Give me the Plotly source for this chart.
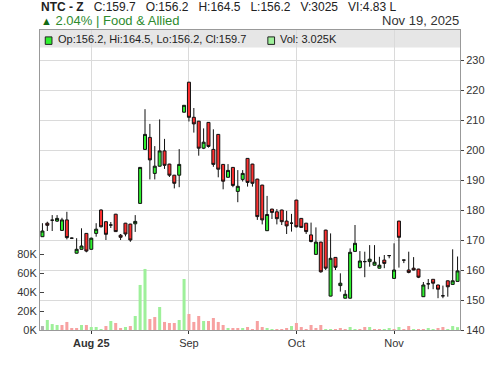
import plotly.graph_objects as go

# ---- data (trading-day index, OHLC, volume) ----
opens = [171.1, 175.6, 176.6, 176.3, 173.2, 176.7, 170.6, 165.6, 166.9, 172.2,
         166.9, 172.2, 180.0, 176.1, 175.0, 178.6, 171.6, 175.6, 175.3, 175.4,
         182.2, 200.2, 204.2, 192.2, 194.6, 199.7, 195.3, 191.6, 191.6, 212.6,
         222.6, 210.9, 209.6, 200.6, 209.2, 200.2, 205.2, 195.2, 190.9, 194.2,
         186.2, 190.2, 197.2, 195.3, 190.3, 188.3, 173.1, 180.3, 179.4, 180.0,
         176.3, 175.6, 183.3, 177.2, 175.6, 171.7, 165.2, 169.3, 173.3, 151.3,
         164.2, 154.8, 150.6, 150.6, 166.2, 160.8, 162.8, 162.8, 161.6, 160.6,
         163.3, 164.8, 157.2, 176.3, 163.3, 160.0, 160.6, 160.3, 151.1, 155.4,
         156.9, 155.0, 151.4, 156.4, 155.2, 156.2]
highs = [175.6, 176.1, 178.3, 178.3, 177.4, 179.4, 170.8, 170.6, 173.9, 172.3,
         170.8, 175.6, 180.2, 176.2, 176.0, 178.7, 172.0, 175.7, 175.4, 178.3,
         194.3, 213.6, 208.7, 201.3, 210.2, 203.7, 195.4, 191.7, 200.3, 215.0,
         222.7, 214.0, 209.7, 207.2, 209.3, 206.9, 205.3, 195.3, 195.3, 194.3,
         193.3, 193.3, 197.3, 195.4, 190.4, 188.4, 184.7, 180.4, 180.3, 180.1,
         179.7, 178.7, 183.4, 177.3, 175.7, 175.8, 174.2, 169.4, 173.4, 172.2,
         164.3, 158.9, 153.3, 167.2, 175.0, 166.3, 166.1, 168.3, 168.3, 164.4,
         165.0, 165.0, 168.9, 176.4, 163.4, 166.1, 164.3, 160.4, 156.0, 157.0,
         156.9, 155.1, 154.8, 156.5, 166.9, 164.5]
lows = [171.0, 173.0, 173.0, 176.0, 173.0, 170.2, 170.4, 165.5, 166.8, 165.9,
        166.8, 171.1, 174.2, 170.0, 174.0, 172.8, 170.0, 171.2, 169.4, 172.7,
        182.2, 200.0, 190.2, 190.2, 194.5, 193.7, 191.0, 187.2, 187.6, 212.5,
        209.5, 205.8, 198.1, 200.3, 200.8, 194.4, 190.9, 186.9, 190.8, 187.6,
        182.6, 189.5, 187.8, 187.8, 176.7, 175.2, 173.0, 177.0, 175.2, 175.0,
        172.0, 172.8, 174.2, 174.1, 172.0, 169.2, 165.1, 159.1, 160.0, 151.2,
        160.0, 152.8, 150.5, 150.5, 166.1, 160.5, 157.6, 161.1, 161.5, 160.5,
        160.6, 163.9, 157.1, 160.8, 162.3, 158.9, 159.9, 157.3, 151.0, 153.6,
        153.6, 150.6, 150.6, 151.1, 155.1, 156.2]
closes = [173.0, 174.9, 176.6, 177.2, 176.7, 170.8, 170.6, 166.9, 168.0, 166.3,
          170.6, 173.6, 174.4, 171.9, 175.0, 172.8, 170.9, 172.0, 170.0, 176.2,
          194.2, 205.2, 196.7, 194.6, 199.7, 194.9, 191.6, 188.9, 195.2, 214.9,
          210.9, 208.7, 200.6, 202.6, 201.2, 195.2, 193.6, 189.6, 193.2, 188.2,
          187.9, 192.2, 189.2, 188.9, 177.8, 176.7, 178.5, 179.2, 177.1, 176.1,
          174.7, 175.6, 174.4, 174.2, 172.8, 169.5, 169.3, 159.4, 160.6, 163.9,
          160.9, 155.6, 151.9, 165.9, 168.9, 163.0, 162.8, 163.6, 162.6, 161.6,
          162.2, 164.8, 160.0, 170.9, 163.3, 159.2, 160.0, 157.6, 155.0, 155.4,
          155.6, 153.6, 151.4, 154.4, 156.4, 159.7]
volumes = [4200, 10600, 6300, 5300, 5300, 8500, 2100, 2100, 5300, 5300,
           3200, 3200, 1000, 4200, 9500, 7400, 2100, 3200, 4200, 14800,
           47600, 64500, 11600, 13700, 24300, 8500, 7400, 7400, 10600, 53900,
           16900, 8500, 14800, 9500, 9500, 12700, 8500, 5300, 2100, 2100,
           2100, 2100, 3200, 1000, 9500, 3200, 2100, 1000, 1000, 1000,
           2100, 4200, 7400, 3200, 1000, 5300, 2100, 5300, 1000, 1000,
           300, 2100, 1000, 3200, 1000, 300, 3200, 3200, 1000, 300,
           1000, 2100, 1000, 3200, 1000, 4200, 1000, 1000, 1000, 2100,
           1000, 2100, 3200, 1000, 4200, 3025]
idx = list(range(len(closes)))

month_tick_idx = [10, 30, 52, 72]
month_tick_text = ["<b>Aug 25</b>", "Sep", "Oct", "Nov"]
price_ticks = [140, 150, 160, 170, 180, 190, 200, 210, 220, 230]
vol_ticks = [0, 20000, 40000, 60000, 80000]
vol_tick_text = ["0K", "20K", "40K", "60K", "80K"]

symbol = "NTC - Z"
sector = "Food & Allied"
change_pct = 2.04
last_volume = 3025
vi_text = "4.83 L"
date_text = "Nov 19, 2025"

# ---- colours ----
UP = "#2ef02e"
DOWN = "#ff3030"
VUP = "#9ef09a"
VDOWN = "#f7a1a1"
VFIRST = "#b0b0b0"

vol_colors = []
for i, c in enumerate(closes):
    if i == 0:
        vol_colors.append(VFIRST)
    elif c >= closes[i - 1]:
        vol_colors.append(VUP)
    else:
        vol_colors.append(VDOWN)

FONT = "Arial, Liberation Sans, sans-serif"

fig = go.Figure()
fig.add_trace(go.Bar(x=idx, y=volumes, marker=dict(color=vol_colors, line=dict(width=0)),
                     yaxis="y", hoverinfo="skip", showlegend=False))
fig.add_trace(go.Candlestick(
    x=idx, open=opens, high=highs, low=lows, close=closes, yaxis="y2",
    increasing=dict(fillcolor=UP, line=dict(color="#111111", width=1)),
    decreasing=dict(fillcolor=DOWN, line=dict(color="#111111", width=1)),
    whiskerwidth=0, hoverinfo="skip", showlegend=False))

axis_line = "#999999"
grid = "#dadada"

fig.update_layout(
    width=500, height=366,
    margin=dict(l=40, r=40, t=30, b=36),
    paper_bgcolor="white", plot_bgcolor="rgba(0,0,0,0)",
    font=dict(family=FONT, size=11, color="#333333"),
    bargap=0.38, boxgap=0.12,
    showlegend=False,
    xaxis=dict(range=[-0.5, len(closes) - 0.5], tickmode="array",
               tickvals=month_tick_idx, ticktext=month_tick_text,
               showgrid=True, gridcolor=grid, gridwidth=1,
               ticks="outside", ticklen=3, tickcolor="#333333",
               showline=True, linecolor=axis_line, linewidth=1, mirror=True,
               rangeslider=dict(visible=False), zeroline=False,
               tickfont=dict(size=11, color="#333333")),
    yaxis=dict(range=[0, 317000], side="left", tickmode="array",
               tickvals=vol_ticks, ticktext=vol_tick_text,
               showgrid=False, zeroline=False,
               ticks="inside", ticklen=4, tickcolor="#444444",
               showline=True, linecolor=axis_line, linewidth=1,
               tickfont=dict(size=11, color="#333333")),
    yaxis2=dict(range=[140, 240], side="right", overlaying="y",
                tickmode="array", tickvals=price_ticks,
                showgrid=True, gridcolor=grid, gridwidth=1, zeroline=False,
                ticks="outside", ticklen=3, tickcolor="#444444",
                showline=True, linecolor=axis_line, linewidth=1,
                tickfont=dict(size=11, color="#333333")),
)

# legend strip at the top of the plot
fig.add_shape(type="rect", xref="paper", yref="paper", x0=0, x1=1, y0=0.942, y1=1,
              fillcolor="#e6e6e6", line=dict(width=0), layer="below")
# legend swatches
fig.add_shape(type="rect", xref="paper", yref="paper", x0=0.0125, x1=0.0285,
              y0=0.952, y1=0.977, fillcolor=UP, line=dict(color="#222222", width=1))
fig.add_shape(type="rect", xref="paper", yref="paper", x0=0.5425, x1=0.5585,
              y0=0.952, y1=0.977, fillcolor=VUP, line=dict(color="#222222", width=1))

nb = "\u00a0"
leg1 = f"Op:{opens[-1]}, Hi:{highs[-1]}, Lo:{lows[-1]}, Cl:{closes[-1]}"
leg2 = f"Vol: {last_volume / 1000:.3f}K"
fig.add_annotation(xref="paper", yref="paper", x=0.037, y=0.971, xanchor="left",
                   yanchor="middle", text=leg1, showarrow=False,
                   font=dict(size=11, color="#222222", family=FONT))
fig.add_annotation(xref="paper", yref="paper", x=0.566, y=0.971, xanchor="left",
                   yanchor="middle", text=leg2, showarrow=False,
                   font=dict(size=11, color="#222222", family=FONT))

sep = nb * 3
head1 = (f"<b>{symbol}</b>{sep}C:{closes[-1]}{sep}O:{opens[-1]}{sep}H:{highs[-1]}"
         f"{sep}L:{lows[-1]}{sep}V:{last_volume}{sep}VI:{vi_text}")
fig.add_annotation(xref="paper", yref="paper", x=-0.003, y=1.078, xanchor="left",
                   yanchor="middle", text=head1, showarrow=False,
                   font=dict(size=12, color="#222222", family=FONT))
head2 = (f"<span style='color:#136b13;font-size:11px'>\u25b2</span>{nb}"
         f"{change_pct:.2f}%{nb}|{nb}{sector}")
fig.add_annotation(xref="paper", yref="paper", x=-0.003, y=1.030, xanchor="left",
                   yanchor="middle", text=head2, showarrow=False,
                   font=dict(size=13, color="#2e8b2e", family=FONT))
fig.add_annotation(xref="paper", yref="paper", x=1.003, y=1.030, xanchor="right",
                   yanchor="middle", text=date_text, showarrow=False,
                   font=dict(size=13, color="#333333", family=FONT))

fig.write_html("out.html")
